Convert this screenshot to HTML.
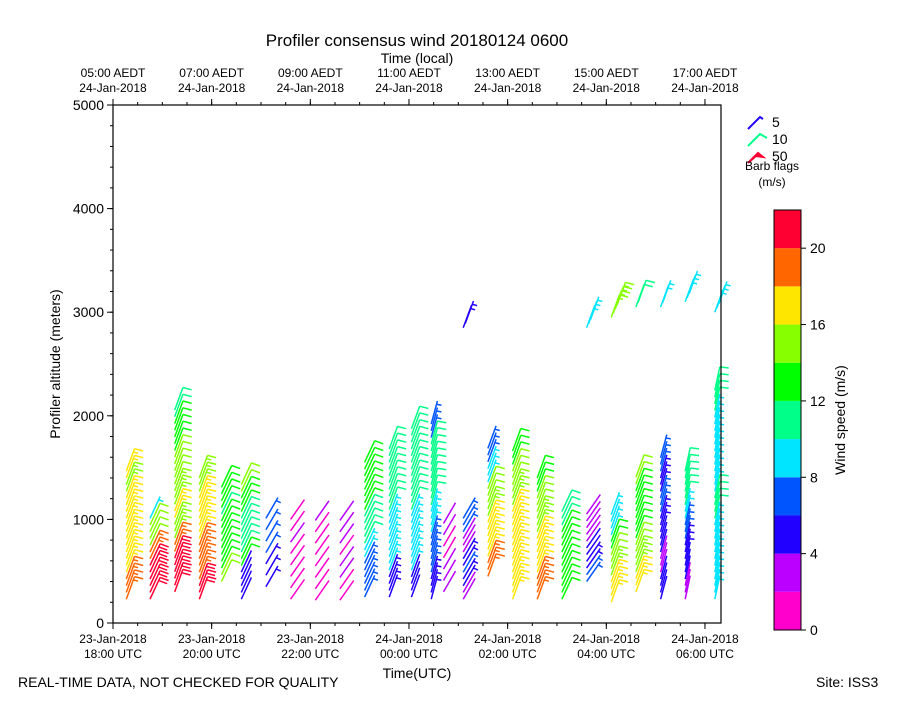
<!DOCTYPE html>
<html><head><meta charset="utf-8"><style>
body{margin:0;background:#fff}
svg{font-family:"Liberation Sans","DejaVu Sans",sans-serif}
</style></head><body>
<svg id="chart" width="900" height="700" viewBox="0 0 900 700">
<rect width="900" height="700" fill="#fff"/>
<text x="417" y="46" font-size="17" text-anchor="middle">Profiler consensus wind 20180124 0600</text>
<text x="417" y="63" font-size="14" text-anchor="middle">Time (local)</text>
<text x="417" y="678" font-size="14" text-anchor="middle">Time(UTC)</text>
<text x="60" y="364" font-size="14" text-anchor="middle" transform="rotate(-90 60 364)">Profiler altitude (meters)</text>
<text x="18" y="687" font-size="14">REAL-TIME DATA, NOT CHECKED FOR QUALITY</text>
<text x="816" y="687" font-size="14">Site: ISS3</text>
<g id="barbs"></g>
<rect x="113" y="105" width="608" height="518" fill="none" stroke="#000" stroke-width="1.2"/>
<g id="axes"></g>
<g id="legend">
<text x="772" y="127" font-size="14">5</text>
<text x="772" y="144" font-size="14">10</text>
<text x="772" y="161" font-size="14">50</text>
<path d="M748,129 L760,117 L763,119" stroke="#2200ff" stroke-width="2" fill="none"/>
<path d="M748,146 L760,134 L767,138" stroke="#00ff88" stroke-width="2" fill="none"/>
<path d="M748,163 L758,153 L763,157 L756,156Z" stroke="#ff0033" stroke-width="2" fill="#ff0033"/>
<text x="772" y="170" font-size="12" text-anchor="middle">Barb flags</text>
<text x="772" y="186" font-size="12" text-anchor="middle">(m/s)</text>
</g>
<g id="cbar"></g>
<text x="845" y="420" font-size="14" text-anchor="middle" transform="rotate(-90 845 420)">Wind speed (m/s)</text>
</svg>
<script>
const colTimes=[0.27,0.75,1.25,1.75,2.2,2.6,3.1,3.6,4.1,4.6,5.1,5.6,6.05,6.45,6.7,7.1,7.6,8.1,8.6,9.1,9.6,10.1,10.6,11.1,11.6,12.2];
const colBases=[230,230,300,230,400,230,350,230,220,220,250,250,250,230,300,230,450,230,230,230,400,200,300,230,230,230];
const colTops=[1470,1070,2100,1400,1350,1350,1100,1050,1050,1050,1580,1700,1880,1950,1050,1050,1700,1720,1450,1100,1100,1100,1450,1650,1500,2300];
const colSpeeds=[[19,19,17,17,16,16,17,17,16,15,16],[21,20,20,19,14,14,8],[20,20,19,15,16,15,14,14,13,12,10],[20,19,19,18,17,16,16,15],[14,13,13,12,12,11,12,13],[4,4,13,11,10,10,13,14],[5,5,6,6,6],[1,0,1,2,1],[1,1,0,1,2],[1,2,1,2,3],[6,7,9,10,11,12,12,13],[5,8,9,9,10,10,11],[4,8,9,9,10,10,11,11],[5,6,6,9,10,11,11,6],[2,3,1,2,3],[3,5,6,5,3,2,7,6],[19,17,16,15,14,8,7],[17,17,16,17,15,14,12],[18,17,16,15,14,12],[13,12,12,12,11],[7,5,4,3,2,3],[17,16,15,14,13,8,9],[16,15,14,13,12,13,14],[4,3,4,5,6,5,7],[2,4,5,6,8,10,11],[8,9,9,10,8,8,9,10]];
const colDirs=[70,65,70,70,65,65,60,55,55,55,65,70,70,75,60,60,70,70,70,65,55,70,70,75,78,78];
const upTimes=[7.1,9.6,10.1,10.6,11.1,11.6,12.2];
const upAlts=[2850,2850,2950,3050,3050,3100,3000];
const upCounts=[2,3,4,2,2,3,3];
const upSpeeds=[5,8,15,10,9,8,9];
const X0=113,X1=721,Y0=623,Y1=105;
const xs=h=>X0+h*49.33, ys=a=>Y0-a*(Y0-Y1)/5000;
const cols=['#ff00cc','#bb00ff','#2200ff','#0055ff','#00e5ff','#00ff88','#00ff00','#88ff00','#ffe600','#ff6600','#ff0033'];
const cmap=s=>cols[Math.max(0,Math.min(10,Math.floor(s/2)))];
const NS='http://www.w3.org/2000/svg';
const g=document.getElementById('barbs');
function barb(x,y,spd,dir){
  const a=dir*Math.PI/180,L=24,dx=Math.cos(a),dy=-Math.sin(a);
  const tx=x+dx*L,ty=y+dy*L;
  const b=a-85*Math.PI/180,bx=Math.cos(b),by=-Math.sin(b);
  let d=`M${x.toFixed(1)},${y.toFixed(1)}L${tx.toFixed(1)},${ty.toFixed(1)}`;
  let n=Math.floor(spd/10),half=(spd%10)>=5,pos=0;
  for(let i=0;i<n;i++){const px=tx-dx*pos,py=ty-dy*pos;d+=`M${px.toFixed(1)},${py.toFixed(1)}l${(bx*9).toFixed(1)},${(by*9).toFixed(1)}`;pos+=3.5;}
  if(half){if(n===0)pos=3.5;const px=tx-dx*pos,py=ty-dy*pos;d+=`M${px.toFixed(1)},${py.toFixed(1)}l${(bx*5).toFixed(1)},${(by*5).toFixed(1)}`;}
  const p=document.createElementNS(NS,'path');
  p.setAttribute('d',d);p.setAttribute('stroke',cmap(spd));p.setAttribute('stroke-width','1.5');p.setAttribute('fill','none');
  
  
  g.appendChild(p);
}
colTimes.forEach((t,i)=>{
  const sp=colSpeeds[i];
  const step=Math.max(...sp)<7?110:65;
  for(let a=colBases[i];a<=colTops[i];a+=step){
    const f=(a-colBases[i])/Math.max(1,colTops[i]-colBases[i]);
    const s=sp[Math.min(sp.length-1,Math.floor(f*sp.length))];
    barb(xs(t),ys(a),s,colDirs[i]);
  }
});
upTimes.forEach((t,i)=>{for(let k=0;k<upCounts[i];k++)barb(xs(t)+k*2,ys(upAlts[i]+k*40),upSpeeds[i],70);});
const ax=document.getElementById('axes');
function el(tag,attrs,txt){const e=document.createElementNS(NS,tag);for(const k in attrs)e.setAttribute(k,attrs[k]);if(txt!==undefined)e.textContent=txt;ax.appendChild(e);return e;}
const yTicks=[0,1000,2000,3000,4000,5000];
yTicks.forEach(v=>{el('line',{x1:X0-6,x2:X0,y1:ys(v),y2:ys(v),stroke:'#000'});el('text',{x:X0-9,y:ys(v)+5,'font-size':14,'text-anchor':'end'},v);});
for(let v=0;v<=5000;v+=200)el('line',{x1:X0-3,x2:X0,y1:ys(v),y2:ys(v),stroke:'#000'});
const xLab1=['23-Jan-2018','23-Jan-2018','23-Jan-2018','24-Jan-2018','24-Jan-2018','24-Jan-2018','24-Jan-2018'];
const xLab2=['18:00 UTC','20:00 UTC','22:00 UTC','00:00 UTC','02:00 UTC','04:00 UTC','06:00 UTC'];
const tLab1=['05:00 AEDT','07:00 AEDT','09:00 AEDT','11:00 AEDT','13:00 AEDT','15:00 AEDT','17:00 AEDT'];
xLab1.forEach((l,i)=>{const x=xs(i*2);
 el('line',{x1:x,x2:x,y1:Y0,y2:Y0+6,stroke:'#000'});
 el('text',{x:x,y:643,'font-size':12,'text-anchor':'middle'},l);
 el('text',{x:x,y:658,'font-size':12,'text-anchor':'middle'},xLab2[i]);
 el('line',{x1:x,x2:x,y1:Y1,y2:Y1-6,stroke:'#000'});
 el('text',{x:x,y:77,'font-size':12,'text-anchor':'middle'},tLab1[i]);
 el('text',{x:x,y:92,'font-size':12,'text-anchor':'middle'},'24-Jan-2018');
});
for(let h=0;h<=12.3;h+=0.5){el('line',{x1:xs(h),x2:xs(h),y1:Y0,y2:Y0+3,stroke:'#000'});el('line',{x1:xs(h),x2:xs(h),y1:Y1,y2:Y1-3,stroke:'#000'});}
const cb=document.getElementById('cbar');
const cy=s=>630-s*420/22;
cols.forEach((c,i)=>{const r=document.createElementNS(NS,'rect');r.setAttribute('x',774);r.setAttribute('y',cy(i*2+2));r.setAttribute('width',27);r.setAttribute('height',420/11);r.setAttribute('fill',c);cb.appendChild(r);});
const cbTicks=[0,4,8,12,16,20];
cbTicks.forEach(v=>{const l=document.createElementNS(NS,'line');l.setAttribute('x1',801);l.setAttribute('x2',806);l.setAttribute('y1',cy(v));l.setAttribute('y2',cy(v));l.setAttribute('stroke','#000');cb.appendChild(l);
 const t=document.createElementNS(NS,'text');t.setAttribute('x',810);t.setAttribute('y',cy(v)+5);t.setAttribute('font-size',14);t.textContent=v;cb.appendChild(t);});
const fr=document.createElementNS(NS,'rect');fr.setAttribute('x',774);fr.setAttribute('y',210);fr.setAttribute('width',27);fr.setAttribute('height',420);fr.setAttribute('fill','none');fr.setAttribute('stroke','#000');cb.appendChild(fr);
</script>
</body></html>
